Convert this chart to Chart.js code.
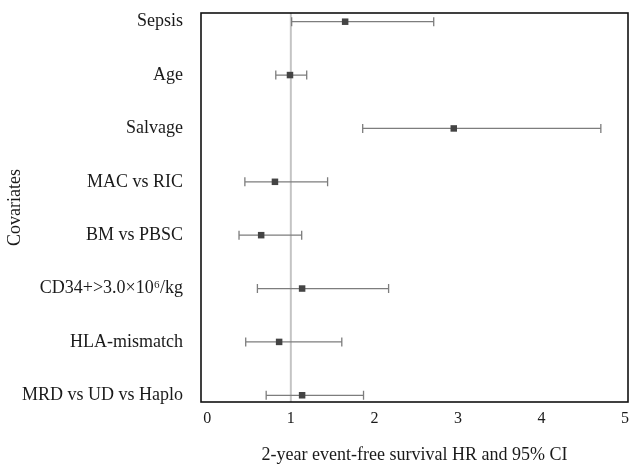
<!DOCTYPE html>
<html>
<head>
<meta charset="utf-8">
<script src="https://cdn.jsdelivr.net/npm/chart.js@4/dist/chart.umd.min.js"></script>
<style>
  html, body { margin: 0; padding: 0; background: #fff; }
  #wrap { width: 630px; height: 466px; }
</style>
</head>
<body>
<div id="wrap"><canvas id="forestChart"></canvas></div>
<script>
// covariates, top to bottom
var covariates = ['Sepsis', 'Age', 'Salvage', 'MAC vs RIC', 'BM vs PBSC',
                  'CD34+>3.0\u00d710\u2076/kg', 'HLA-mismatch', 'MRD vs UD vs Haplo'];
// hazard ratios and 95% CI bounds
var hazardRatio = [1.65, 0.99, 2.95, 0.81, 0.645, 1.135, 0.86, 1.135];
var ciLower     = [1.01, 0.82, 1.86, 0.45, 0.38, 0.60, 0.46, 0.705];
var ciUpper     = [2.71, 1.19, 4.71, 1.44, 1.13, 2.17, 1.61, 1.87];
var xTicks = [0, 1, 2, 3, 4, 5];
var refValue = 1;

var fontFamily = '"Liberation Serif", "Times New Roman", serif';

var points = hazardRatio.map(function (hr, i) { return { x: hr, y: i }; });

function noPadding(axis) {
  axis.paddingTop = 0;
  axis.paddingBottom = 0;
  axis.paddingLeft = 0;
  axis.paddingRight = 0;
}

var forestPlugin = {
  id: 'forest',
  beforeDatasetsDraw: function (chart) {
    var ctx = chart.ctx, area = chart.chartArea;
    var x = chart.scales.x, y = chart.scales.y;

    // vertical line at HR = 1
    var rx = x.getPixelForValue(refValue);
    ctx.save();
    ctx.strokeStyle = '#c4c4c4';
    ctx.lineWidth = 2;
    ctx.beginPath();
    ctx.moveTo(rx, area.top);
    ctx.lineTo(rx, area.bottom);
    ctx.stroke();

    // CI whiskers with caps
    ctx.strokeStyle = '#7d7d7d';
    ctx.lineWidth = 1.3;
    covariates.forEach(function (c, i) {
      var py = y.getPixelForValue(i);
      var x0 = x.getPixelForValue(ciLower[i]);
      var x1 = x.getPixelForValue(ciUpper[i]);
      ctx.beginPath();
      ctx.moveTo(x0, py);
      ctx.lineTo(x1, py);
      ctx.moveTo(x0, py - 4.5);
      ctx.lineTo(x0, py + 4.5);
      ctx.moveTo(x1, py - 4.5);
      ctx.lineTo(x1, py + 4.5);
      ctx.stroke();
    });
    ctx.restore();
  },
  afterDraw: function (chart) {
    var ctx = chart.ctx, area = chart.chartArea;
    ctx.save();
    ctx.strokeStyle = '#111';
    ctx.lineWidth = 1.6;
    ctx.strokeRect(area.left, area.top, area.right - area.left, area.bottom - area.top);
    ctx.restore();
  }
};

var ctx = document.getElementById('forestChart');

var myForestChart = new Chart(ctx, {
  type: 'scatter',
  data: {
    datasets: [{
      label: 'HR',
      data: points,
      pointStyle: 'rect',
      pointRadius: 4.6,
      backgroundColor: '#444',
      borderColor: '#444',
      borderWidth: 0
    }]
  },
  options: {
    responsive: true,
    maintainAspectRatio: false,
    animation: false,
    layout: { autoPadding: false, padding: { top: 13, right: 2, left: 0, bottom: 0 } },
    plugins: {
      legend: { display: false },
      tooltip: { enabled: false }
    },
    scales: {
      x: {
        type: 'linear',
        min: -0.075,
        max: 5.035,
        afterBuildTicks: function (axis) {
          axis.ticks = xTicks.map(function (v) { return { value: v }; });
        },
        afterFit: function (axis) { axis.height = 64; noPadding(axis); },
        grid: { display: false, drawTicks: false },
        border: { display: false },
        ticks: {
          padding: 7,
          color: '#1a1a1a',
          font: { family: fontFamily, size: 16 },
          maxRotation: 0
        },
        title: {
          display: true,
          text: '2-year event-free survival HR and 95% CI',
          color: '#1a1a1a',
          font: { family: fontFamily, size: 18 },
          padding: { top: 0, bottom: 0 }
        }
      },
      y: {
        type: 'linear',
        reverse: true,
        min: -0.163,
        max: 7.126,
        afterBuildTicks: function (axis) {
          axis.ticks = covariates.map(function (c, i) { return { value: i }; });
        },
        afterFit: function (axis) { axis.width = 201; noPadding(axis); },
        grid: { display: false, drawTicks: false },
        border: { display: false },
        ticks: {
          padding: 18,
          color: '#1a1a1a',
          font: { family: fontFamily, size: 18 },
          callback: function (value) { return covariates[value]; }
        },
        title: {
          display: true,
          text: 'Covariates',
          color: '#1a1a1a',
          font: { family: fontFamily, size: 18 },
          padding: { top: 4, bottom: 0 }
        }
      }
    }
  },
  plugins: [forestPlugin]
});
</script>
</body>
</html>
